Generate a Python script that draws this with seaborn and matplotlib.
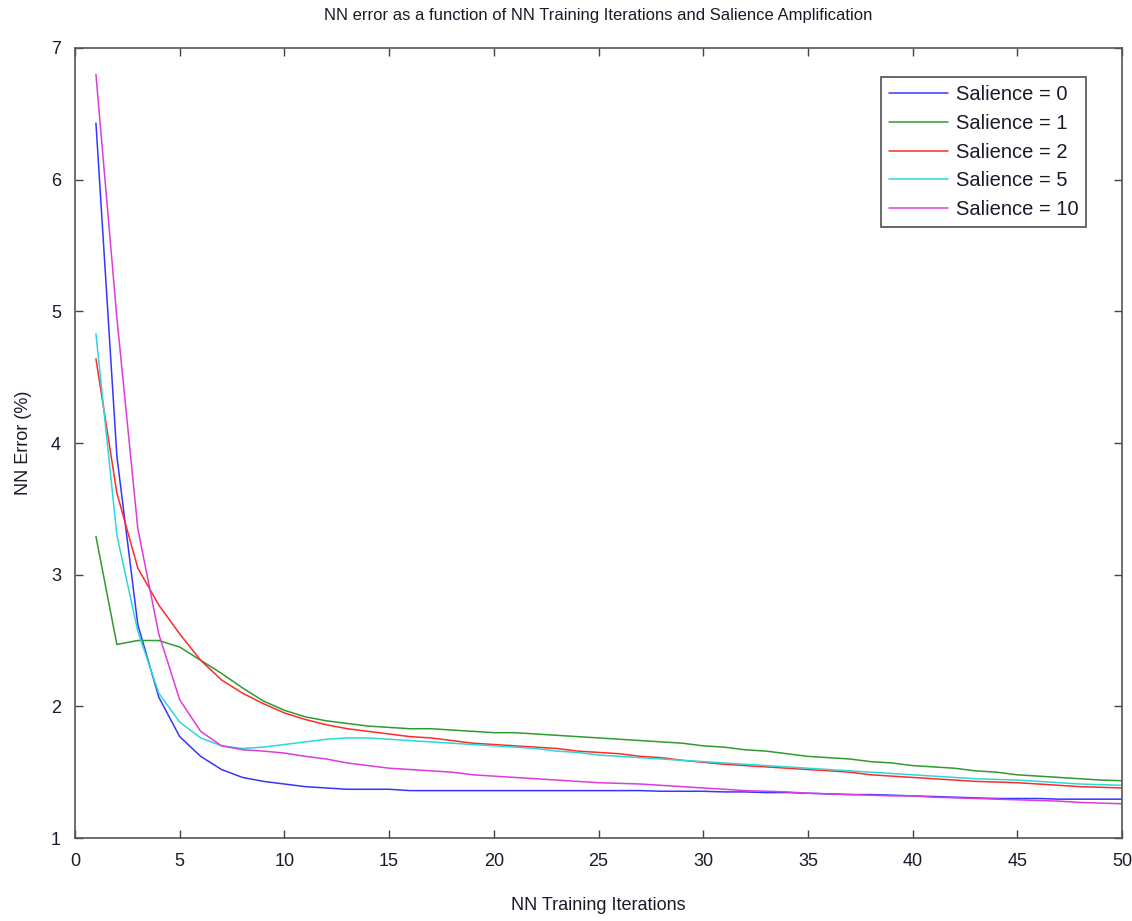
import numpy as np
import pandas as pd
import matplotlib
matplotlib.use('Agg')
import matplotlib.pyplot as plt
import seaborn as sns

iterations = list(range(1, 51))

sal_0 = [6.43, 3.9, 2.62, 2.07, 1.77, 1.62, 1.52, 1.46, 1.43, 1.41,
         1.39, 1.38, 1.37, 1.37, 1.37, 1.36, 1.36, 1.36, 1.36, 1.36,
         1.36, 1.36, 1.36, 1.36, 1.36, 1.36, 1.36, 1.355, 1.355, 1.355,
         1.35, 1.35, 1.345, 1.345, 1.34, 1.335, 1.33, 1.33, 1.325, 1.32,
         1.315, 1.31, 1.305, 1.30, 1.30, 1.30, 1.295, 1.295, 1.295, 1.295]
sal_1 = [3.29, 2.47, 2.50, 2.50, 2.45, 2.35, 2.25, 2.14, 2.04, 1.97,
         1.92, 1.89, 1.87, 1.85, 1.84, 1.83, 1.83, 1.82, 1.81, 1.80,
         1.80, 1.79, 1.78, 1.77, 1.76, 1.75, 1.74, 1.73, 1.72, 1.70,
         1.69, 1.67, 1.66, 1.64, 1.62, 1.61, 1.60, 1.58, 1.57, 1.55,
         1.54, 1.53, 1.51, 1.50, 1.48, 1.47, 1.46, 1.45, 1.44, 1.435]
sal_2 = [4.64, 3.62, 3.05, 2.77, 2.55, 2.35, 2.20, 2.10, 2.02, 1.95,
         1.90, 1.86, 1.83, 1.81, 1.79, 1.77, 1.76, 1.74, 1.72, 1.71,
         1.70, 1.69, 1.68, 1.66, 1.65, 1.64, 1.62, 1.61, 1.59, 1.575,
         1.56, 1.55, 1.54, 1.53, 1.52, 1.51, 1.50, 1.48, 1.47, 1.46,
         1.45, 1.44, 1.43, 1.425, 1.42, 1.41, 1.40, 1.39, 1.385, 1.38]
sal_5 = [4.83, 3.3, 2.57, 2.1, 1.88, 1.76, 1.70, 1.68, 1.69, 1.71,
         1.73, 1.75, 1.76, 1.76, 1.75, 1.74, 1.73, 1.72, 1.71, 1.70,
         1.69, 1.68, 1.66, 1.65, 1.63, 1.62, 1.61, 1.60, 1.59, 1.58,
         1.57, 1.56, 1.55, 1.54, 1.53, 1.52, 1.51, 1.50, 1.49, 1.48,
         1.47, 1.46, 1.45, 1.445, 1.44, 1.43, 1.42, 1.41, 1.405, 1.40]
sal_10 = [6.80, 4.95, 3.35, 2.55, 2.05, 1.81, 1.70, 1.67, 1.66, 1.645,
          1.62, 1.60, 1.57, 1.55, 1.53, 1.52, 1.51, 1.50, 1.48, 1.47,
          1.46, 1.45, 1.44, 1.43, 1.42, 1.415, 1.41, 1.40, 1.39, 1.38,
          1.37, 1.36, 1.355, 1.35, 1.34, 1.335, 1.33, 1.325, 1.32, 1.32,
          1.31, 1.305, 1.30, 1.295, 1.29, 1.285, 1.28, 1.27, 1.265, 1.26]

labels = ['Salience = 0', 'Salience = 1', 'Salience = 2', 'Salience = 5', 'Salience = 10']
series = [sal_0, sal_1, sal_2, sal_5, sal_10]
colors = ['#3535ff', '#2f9a2f', '#ff2a2a', '#2ad8d8', '#dc3cdc']

frames = []
for lab, vals in zip(labels, series):
    frames.append(pd.DataFrame({'iter': iterations, 'err': vals, 'sal': lab}))
df = pd.concat(frames, ignore_index=True)

sns.set_style('ticks')
plt.rcParams['font.family'] = ['Liberation Sans', 'DejaVu Sans']

fig = plt.figure(figsize=(11.32, 9.21), dpi=100)
ax = fig.add_axes([75/1132, 1-838/921, 1047/1132, 790/921])

sns.lineplot(data=df, x='iter', y='err', hue='sal', palette=colors,
             hue_order=labels, linewidth=1.1, ax=ax)

ax.set_xlim(0, 50)
ax.set_ylim(1, 7)
ax.set_xticks(np.arange(0, 51, 5))
ax.set_yticks(np.arange(1, 8, 1))
ax.tick_params(direction='in', length=6, width=1, colors='#444444',
               labelcolor='#1a1a2a', labelsize=13, top=True, right=True)
ax.tick_params(axis='x', pad=11)
ax.tick_params(axis='y', pad=10)
for sp in ax.spines.values():
    sp.set_visible(True)
    sp.set_color('#555555')
    sp.set_linewidth(1.2)

ax.set_title('NN error as a function of NN Training Iterations and Salience Amplification',
             fontsize=12, color='#1a1a2a', pad=20)
ax.set_xlabel('NN Training Iterations', fontsize=13, color='#1a1a2a', labelpad=19)
ax.set_ylabel('NN Error (%)', fontsize=13, color='#1a1a2a', labelpad=14)

leg = ax.legend(loc='upper right', bbox_to_anchor=(0.966, 0.963), fontsize=14.5,
                frameon=True, fancybox=False, handlelength=2.9, borderpad=0.4,
                labelspacing=0.48, handletextpad=0.4, borderaxespad=0)
leg.get_frame().set_edgecolor('#222222')
leg.get_frame().set_linewidth(1.2)
for t in leg.get_texts():
    t.set_color('#1a1a2a')

fig.savefig('out.png', dpi=100)
